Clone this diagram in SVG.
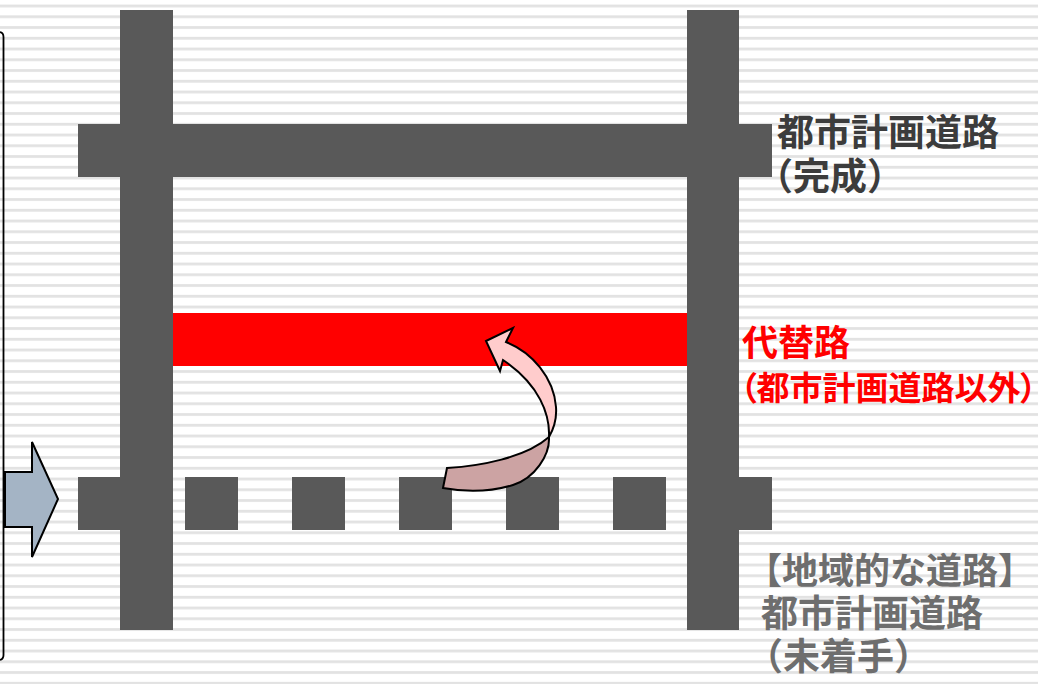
<svg xmlns="http://www.w3.org/2000/svg" width="1038" height="684" viewBox="0 0 1038 684">
<defs>
<pattern id="stripes" patternUnits="userSpaceOnUse" x="0" y="4.6" width="1038" height="10.75">
<rect x="0" y="0" width="1038" height="2.8" fill="#e2e2e2"/>
</pattern>
<style>
.road{fill:#595959}
.alt{fill:#ff0000}
.t{font-family:"Noto Sans CJK JP","Noto Sans CJK SC",sans-serif;font-weight:bold}
.tb{fill:#3c3c3c;font-size:37px}
.tr{fill:#ff0000}
.tg{fill:#6e6e6e;font-size:37px}
.palt{font-feature-settings:"palt" 1}
.ol{stroke:#000;stroke-width:2;stroke-linejoin:miter}
</style>
</defs>
<rect x="0" y="0" width="1038" height="684" fill="#ffffff"/>
<rect x="0" y="0" width="1038" height="684" fill="url(#stripes)"/>
<path d="M -10,32 H -1.5 Q 3.5,32 3.5,37 V 655 Q 3.5,660 -1.5,660 H -10" fill="none" stroke="#000" stroke-width="1.8"/>

<g id="road-top">
<rect class="road" x="78" y="124" width="694" height="53"/>
</g>
<g id="road-left">
<rect class="road" x="120" y="10" width="53" height="620"/>
</g>
<g id="road-right">
<rect class="road" x="687" y="10" width="52" height="620"/>
</g>
<g id="road-alternative">
<rect class="alt" x="173" y="313" width="514" height="53"/>
</g>
<g id="road-planned">
<rect class="road" x="78" y="477" width="42" height="53"/>
<rect class="road" x="185" y="477" width="53" height="53"/>
<rect class="road" x="292" y="477" width="53" height="53"/>
<rect class="road" x="399" y="477" width="53" height="53"/>
<rect class="road" x="506" y="477" width="53" height="53"/>
<rect class="road" x="613" y="477" width="53" height="53"/>
<rect class="road" x="739" y="477" width="33" height="53"/>
</g>

<g id="connectors">
<polygon class="ol" points="5,472 32,472 32,442 58,499 32,557 32,527 5,527" fill="#a4b4c5"/>
<path class="ol" d="M 447,468 C 480,466 525,458 549,437 C 550,455 535,478 513,485 C 490,492 465,492 443,488 Z" fill="#cca3a3"/>
<path class="ol" d="M 486,341 L 513,328 L 506,342 C 532,352 554,378 556,407 C 557,420 553,430 549,437 C 550,415 540,385 503,360 L 500,371 Z" fill="#ffcccc"/>
</g>

<g id="label-completed">
<text class="t tb"><tspan x="777" y="146">都市計画道路</tspan><tspan x="756" y="190">（完成）</tspan></text>
</g>
<g id="label-alternative">
<text class="t tr"><tspan x="742" y="356" font-size="36">代替路</tspan><tspan class="palt" x="740" y="400" font-size="33">（都市計画道路以外）</tspan></text>
</g>
<g id="label-planned">
<text class="t tg"><tspan x="746" y="584" font-size="36">【地域的な道路】</tspan><tspan x="761" y="627">都市計画道路</tspan><tspan x="746" y="670">（未着手）</tspan></text>
</g>
</svg>
